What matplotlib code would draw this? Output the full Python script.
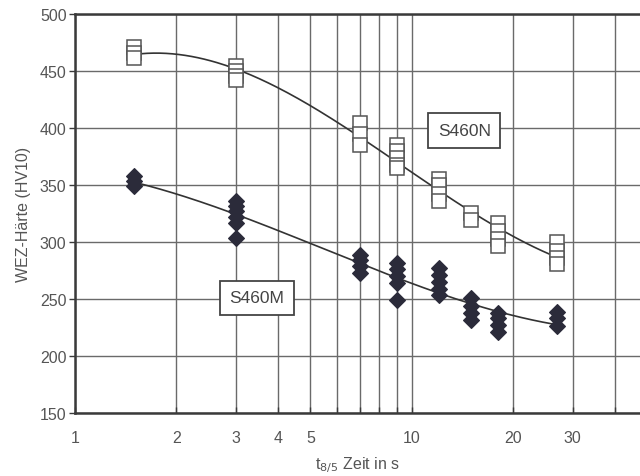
import numpy as np
import matplotlib
matplotlib.use("Agg")
import matplotlib.pyplot as plt
from matplotlib.ticker import FixedLocator, FixedFormatter, NullFormatter

plt.rcParams["font.family"] = ["Liberation Sans", "DejaVu Sans"]

# cooling time t8/5 in s -> hardness readings (HV10)
n_times = [1.5, 3, 7, 9, 12, 15, 18, 27]
n_values = [
    [471, 466, 462],
    [455, 450, 446, 442],
    [405, 395, 385],
    [385, 380, 374, 368, 365],
    [355, 350, 342, 336],
    [326, 319],
    [317, 310, 303, 297],
    [300, 292, 286, 281],
]

m_times = [1.5, 3, 7, 9, 12, 15, 18, 27]
m_values = [
    [358, 354, 349],
    [336, 332, 327, 322, 317, 304],
    [289, 284, 279, 273],
    [282, 276, 270, 264, 249],
    [277, 271, 265, 259, 254],
    [251, 244, 238, 232],
    [238, 233, 227, 221],
    [239, 233, 226],
]

x_ticks = [1, 2, 3, 4, 5, 10, 20, 30]
x_grid = [1, 2, 3, 4, 5, 6, 7, 8, 9, 10, 20, 30, 40]
y_ticks = [150, 200, 250, 300, 350, 400, 450, 500]

ink = "#3a3a3a"
grid_col = "#6a6a6a"
dia_col = "#2b2b3a"


def flatten(times, values):
    xs, ys = [], []
    for t, vals in zip(times, values):
        xs.extend([t] * len(vals))
        ys.extend(vals)
    return np.array(xs, float), np.array(ys, float)


def trend(times, values, deg):
    # least squares over every reading, in log time
    xs, ys = flatten(times, values)
    coef = np.polyfit(np.log10(xs), ys, deg)
    xc = np.logspace(np.log10(min(times)), np.log10(max(times)), 200)
    return xc, np.polyval(coef, np.log10(xc))


fig = plt.figure(figsize=(6.4, 4.77), dpi=100)
ax = fig.add_axes([0.117, 0.132, 0.883, 0.836])
ax.set_xscale("log")
ax.set_xlim(1, 47.5)
ax.set_ylim(150, 500)

for gx in x_grid:
    ax.axvline(gx, color=grid_col, lw=1.0, zorder=0)
for gy in y_ticks:
    ax.axhline(gy, color=grid_col, lw=1.0, zorder=0)

ax.xaxis.set_major_locator(FixedLocator(x_ticks))
ax.xaxis.set_major_formatter(FixedFormatter([str(v) for v in x_ticks]))
ax.xaxis.set_minor_locator(FixedLocator([6, 7, 8, 9, 40]))
ax.xaxis.set_minor_formatter(NullFormatter())
ax.set_yticks(y_ticks)
ax.tick_params(axis="both", which="both", colors=ink, labelsize=11.5,
               length=4, width=1.0, labelcolor="#555555")
ax.tick_params(axis="x", which="both", direction="in", pad=12)
ax.tick_params(axis="y", direction="out", pad=2)

for side in ["left", "bottom", "top"]:
    ax.spines[side].set_color(ink)
    ax.spines[side].set_linewidth(1.8)
ax.spines["right"].set_visible(False)

# S460N
xc, yc = trend(n_times, n_values, 3)
ax.plot(xc, yc, color="#333333", lw=1.2, zorder=2)
xs, ys = flatten(n_times, n_values)
ax.plot(xs, ys, ls="none", marker="s", ms=9.5, mfc="white", mec="#555555",
        mew=1.1, zorder=3)

# S460M
xc, yc = trend(m_times, m_values, 3)
ax.plot(xc, yc, color="#333333", lw=1.2, zorder=2)
xs, ys = flatten(m_times, m_values)
ax.plot(xs, ys, ls="none", marker="D", ms=8.5, mfc=dia_col, mec=dia_col,
        mew=0.8, zorder=3)

box = dict(boxstyle="square,pad=0.55", fc="white", ec="#444444", lw=1.3)
ax.text(14.3, 398, "S460N", ha="center", va="center", fontsize=12.5,
        color="#444444", bbox=box, zorder=4)
ax.text(3.47, 251, "S460M", ha="center", va="center", fontsize=12.5,
        color="#444444", bbox=box, zorder=4)

ax.set_ylabel("WEZ-Härte (HV10)", fontsize=11.5, color="#555555", labelpad=6)
ax.set_xlabel("t$_{8/5}$ Zeit in s", fontsize=11.5, color="#555555", labelpad=7)

fig.savefig("out.png", dpi=100)
